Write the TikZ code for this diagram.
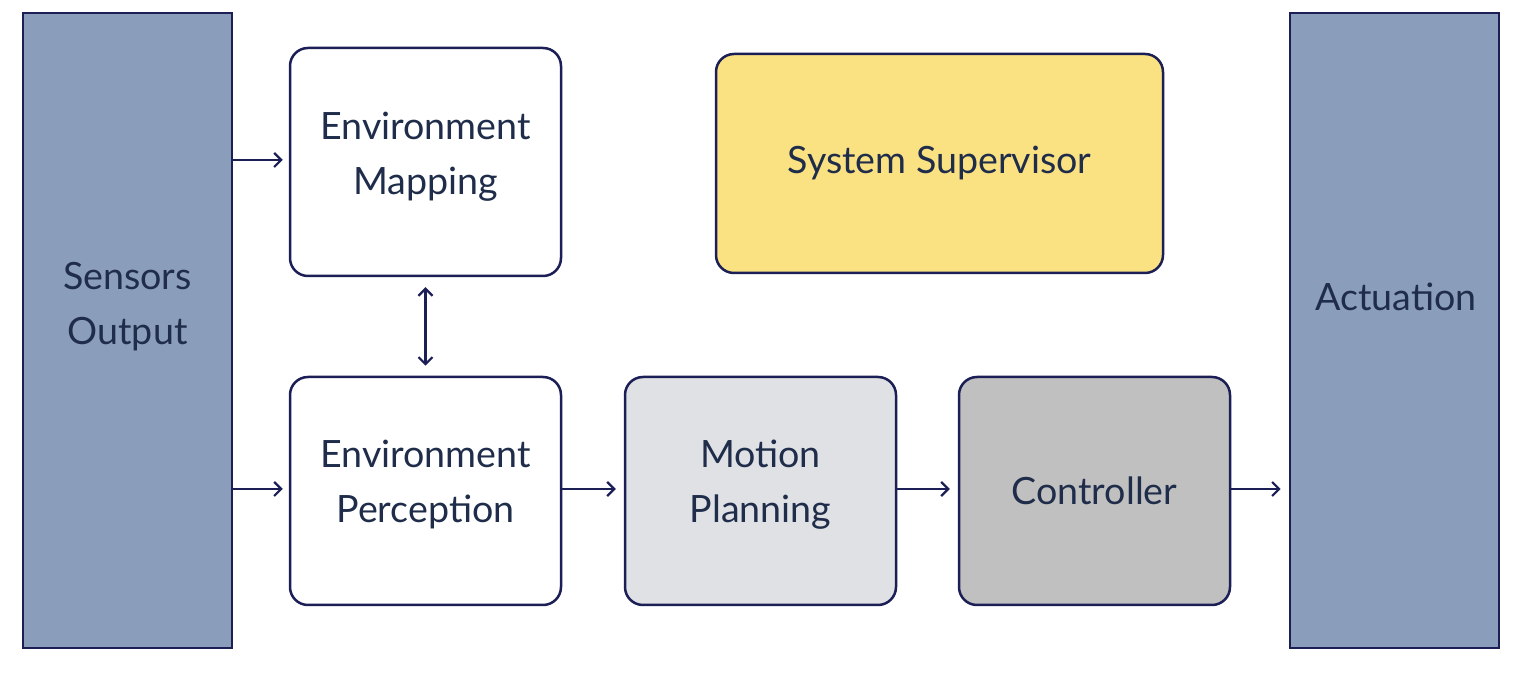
\documentclass[tikz,border=0pt]{standalone}
\usepackage{fontspec}
\setmainfont{Lato}
\usetikzlibrary{arrows.meta}
\definecolor{navy}{HTML}{1C1F55}
\definecolor{txt}{HTML}{1F2D4A}
\definecolor{sidefill}{HTML}{8A9DBA}
\definecolor{yel}{HTML}{FAE283}
\definecolor{lgray}{HTML}{E0E1E5}
\definecolor{mgray}{HTML}{C0C0C0}
\tikzset{
  side/.style={draw=navy, line width=1.3pt, fill=sidefill, minimum width=104.5pt, minimum height=317.5pt, inner sep=0pt},
  blk/.style={draw=navy, line width=1.25pt, rounded corners=9pt, minimum width=135.5pt, minimum height=114pt, inner sep=0pt, align=center, text=txt, font=\fontsize{18.8}{27.5}\selectfont},
  lbl/.style={align=center, text=txt, font=\fontsize{18.8}{27.5}\selectfont},
  conn/.style={draw=navy, line width=1.1pt, -{Straight Barb[length=3.5pt,width=7pt,line width=1.1pt]}},
}
\begin{document}
\begin{tikzpicture}[x=0.5pt,y=-0.5pt]
\useasboundingbox (0,0) rectangle (1538,683);
\fill[white] (0,0) rectangle (1538,683);
\node[side] (sens) at (127.5,330.5) {};
\node[side] (act) at (1394.5,330.5) {};
\node[lbl] (senst) at (127.5,307) {Sensors\\Output};
\node[lbl] (actt) at (1396,297) {Actuation};
\node[blk, fill=white] (map) at (425.5,162) {};
\node[lbl] (mapt) at (425.5,157) {Environment\\Mapping};
\node[blk, fill=white] (per) at (425.5,491) {};
\node[lbl] (pert) at (425.5,485) {Environment\\Perception};
\node[blk, fill=lgray] (mot) at (760.5,491) {};
\node[lbl] (mott) at (760.5,485) {Motion\\Planning};
\node[blk, fill=mgray] (ctl) at (1094.5,491) {Controller};
\node[blk, fill=yel, minimum width=223.5pt, minimum height=109.5pt] (sup) at (939.5,163.5) {System Supervisor};
\coordinate (a1) at (sens.east |- 0,160);
\coordinate (b1) at (map.west |- 0,160);
\draw[conn, shorten >=3pt] (a1) -- (b1);
\coordinate (a2) at (sens.east |- 0,489);
\coordinate (b2) at (per.west |- 0,489);
\draw[conn, shorten >=3pt] (a2) -- (b2);
\coordinate (a3) at (per.east |- 0,489);
\coordinate (b3) at (mot.west |- 0,489);
\draw[conn, shorten >=4pt] (a3) -- (b3);
\coordinate (a4) at (mot.east |- 0,489);
\coordinate (b4) at (ctl.west |- 0,489);
\draw[conn, shorten >=4pt] (a4) -- (b4);
\coordinate (a5) at (ctl.east |- 0,489);
\coordinate (b5) at (act.west |- 0,489);
\draw[conn, shorten >=4pt] (a5) -- (b5);
\draw[conn, {Straight Barb[length=3.5pt,width=7pt,line width=1.1pt]}-{Straight Barb[length=3.5pt,width=7pt,line width=1.1pt]}, shorten <=5pt, shorten >=5pt] (map.south) -- (per.north);
\end{tikzpicture}
\end{document}
